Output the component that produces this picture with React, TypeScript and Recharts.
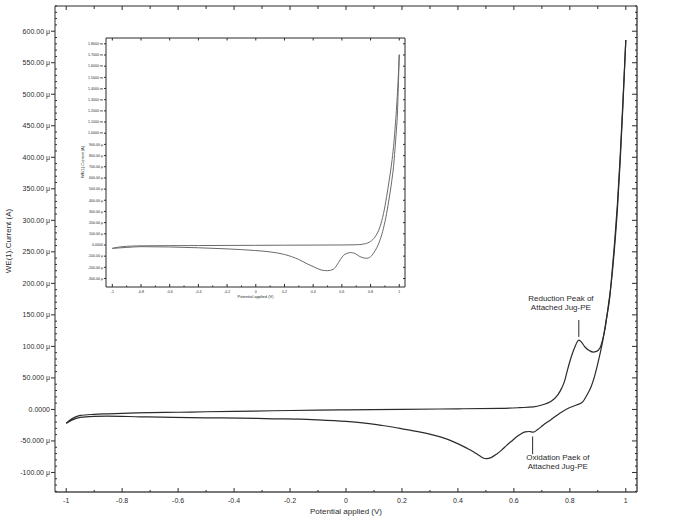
import { Line, LineChart, ReferenceDot, ReferenceLine, XAxis, YAxis } from "recharts";

// cyclic voltammogram, potential (V) vs current (µA)
const upperScan: [number, number][] = [
  [-1, -22], [-0.98, -15], [-0.95, -9.5], [-0.9, -7.8], [-0.85, -7], [-0.75, -5.6],
  [-0.6, -4.5], [-0.5, -3.7], [-0.4, -3], [-0.26, -2.1], [-0.1, -1], [0, -0.6],
  [0.2, 0], [0.4, 1], [0.55, 1.6], [0.62, 2.8], [0.67, 4], [0.7, 7], [0.73, 12],
  [0.757, 23], [0.77, 33], [0.782, 46], [0.79, 60], [0.8, 76], [0.81, 90], [0.818, 99],
  [0.826, 107], [0.832, 110], [0.84, 107.5], [0.854, 99], [0.871, 93], [0.883, 91],
  [0.895, 92], [0.907, 97], [0.918, 112], [0.925, 126], [0.937, 163], [0.949, 205],
  [0.96, 258], [0.97, 318], [0.98, 395], [0.99, 485], [1.0, 586],
];

const lowerScan: [number, number][] = [
  [-1, -22], [-0.98, -17], [-0.95, -12.7], [-0.9, -11], [-0.855, -10.6], [-0.736, -11.7],
  [-0.617, -12.7], [-0.5, -13.3], [-0.379, -13.8], [-0.26, -14.9], [-0.164, -15.4],
  [-0.1, -16.5], [0, -19], [0.074, -22], [0.13, -25.5], [0.193, -30], [0.24, -34],
  [0.288, -38], [0.34, -44], [0.383, -51], [0.43, -61], [0.455, -67], [0.479, -74],
  [0.49, -77], [0.502, -78], [0.52, -76], [0.538, -71], [0.555, -65], [0.574, -57],
  [0.59, -51], [0.61, -43.5], [0.625, -39], [0.64, -35.5], [0.655, -35], [0.669, -36],
  [0.685, -32], [0.704, -25], [0.73, -17], [0.764, -6], [0.8, 3], [0.824, 7],
  [0.846, 12], [0.86, 22], [0.876, 36], [0.888, 52], [0.9, 73], [0.918, 110],
  [0.93, 142], [0.943, 179], [0.95, 213], [0.96, 265], [0.97, 326], [0.98, 402],
  [0.99, 492], [1.0, 586],
];

// inset: full-range scan, µA
const insetUpper: [number, number][] = [
  [-1, -30], [-0.95, -18], [-0.9, -12], [-0.8, -8], [-0.6, -6], [-0.4, -5], [-0.2, -4],
  [0, -3], [0.2, -2], [0.4, -1], [0.6, 0], [0.7, 2], [0.75, 8], [0.78, 18], [0.8, 32],
  [0.83, 70], [0.866, 164], [0.89, 280], [0.912, 433], [0.93, 580], [0.947, 732],
  [0.96, 880], [0.97, 1030], [0.986, 1329], [0.993, 1500], [1.0, 1703],
];

const insetLower: [number, number][] = [
  [-1, -30], [-0.9, -22], [-0.8, -15], [-0.6, -18], [-0.4, -25], [-0.2, -35], [0, -50],
  [0.1, -62], [0.2, -85], [0.3, -130], [0.36, -170], [0.42, -205], [0.46, -225],
  [0.5, -230], [0.54, -218], [0.565, -180], [0.59, -130], [0.61, -95], [0.635, -75],
  [0.66, -68], [0.69, -75], [0.72, -100], [0.75, -115], [0.775, -119], [0.8, -105],
  [0.82, -75], [0.845, -20], [0.866, 45], [0.89, 150], [0.912, 284], [0.93, 420],
  [0.947, 567], [0.96, 700], [0.97, 852], [0.98, 1030], [0.986, 1146], [0.993, 1400],
  [1.0, 1703],
];

const xMajor = [-1, -0.8, -0.6, -0.4, -0.2, 0, 0.2, 0.4, 0.6, 0.8, 1];
const xLabels = ["-1", "-0.8", "-0.6", "-0.4", "-0.2", "0", "0.2", "0.4", "0.6", "0.8", "1"];
const xMinor = [-0.9, -0.7, -0.5, -0.3, -0.1, 0.1, 0.3, 0.5, 0.7, 0.9];

const yMajor = [-100, -50, 0, 50, 100, 150, 200, 250, 300, 350, 400, 450, 500, 550, 600];
const yLabels = [
  "-100.00 μ", "-50.000 μ", "0.0000", "50.000 μ", "100.00 μ", "150.00 μ", "200.00 μ",
  "250.00 μ", "300.00 μ", "350.00 μ", "400.00 μ", "450.00 μ", "500.00 μ", "550.00 μ",
  "600.00 μ",
];

const insetYMajor = [
  -300, -200, -100, 0, 100, 200, 300, 400, 500, 600, 700, 800, 900, 1000, 1100, 1200,
  1300, 1400, 1500, 1600, 1700, 1800,
];
const insetYLabels = [
  "-300.00 μ", "-200.00 μ", "-100.00 μ", "0.0000", "100.00 μ", "200.00 μ", "300.00 μ",
  "400.00 μ", "500.00 μ", "600.00 μ", "700.00 μ", "800.00 μ", "900.00 μ", "1.0000 m",
  "1.1000 m", "1.2000 m", "1.3000 m", "1.4000 m", "1.5000 m", "1.6000 m", "1.7000 m",
  "1.8000 m",
];

const annotations = [
  { x: 0.768, y: 172, tipX: 0.832, tipTop: 142, tipBottom: 115, lines: ["Reduction Peak of", "Attached Jug-PE"] },
  { x: 0.757, y: -81, tipX: 0.667, tipTop: -43, tipBottom: -71, lines: ["Oxidation Paek of", "Attached Jug-PE"] },
];

const FONT = "Liberation Sans, Arial, sans-serif";
const INK = "#2b2b2b";

const toPoints = (pairs: [number, number][]) => pairs.map(([v, i]) => ({ v, i }));

const mainYMinor: number[] = [];
for (let k = -130; k <= 640; k += 10) if (k % 50 !== 0) mainYMinor.push(k);

type Side = "bottom" | "top" | "left" | "right";

function makeTick(
  side: Side,
  majors: number[],
  labels: string[] | null,
  majorLen: number,
  minorLen: number,
  fontSize: number,
  outwardMajor = false,
) {
  return (props: any) => {
    const { x, y, payload } = props;
    const idx = majors.findIndex((m) => Math.abs(m - payload.value) < 1e-6);
    const major = idx >= 0;
    const len = major ? majorLen : minorLen;
    let line;
    if (side === "bottom") line = <line x1={x} x2={x} y1={y} y2={y - len} stroke={INK} strokeWidth={1} />;
    else if (side === "top") line = <line x1={x} x2={x} y1={y} y2={y + len} stroke={INK} strokeWidth={1} />;
    else if (side === "left")
      line = outwardMajor && major
        ? <line x1={x} x2={x - len} y1={y} y2={y} stroke={INK} strokeWidth={1} />
        : <line x1={x} x2={x + len} y1={y} y2={y} stroke={INK} strokeWidth={1} />;
    else line = <line x1={x} x2={x - len} y1={y} y2={y} stroke={INK} strokeWidth={1} />;
    let label = null;
    if (labels && major) {
      if (side === "bottom")
        label = (
          <text x={x} y={y + fontSize * 1.6} textAnchor="middle" fontSize={fontSize} fontFamily={FONT} fill={INK}>
            {labels[idx]}
          </text>
        );
      if (side === "left")
        label = (
          <text x={x - majorLen - 1} y={y} dy="0.35em" textAnchor="end" fontSize={fontSize} fontFamily={FONT} fill={INK}>
            {labels[idx]}
          </text>
        );
    }
    return (
      <g>
        {line}
        {label}
      </g>
    );
  };
}

function AnnotationText(props: any) {
  const { viewBox, lines } = props;
  const cx = viewBox.x + viewBox.width / 2;
  const cy = viewBox.y + viewBox.height / 2;
  return (
    <text x={cx} y={cy} textAnchor="middle" fontSize={8} fontFamily={FONT} fill={INK}>
      {lines.map((l: string, k: number) => (
        <tspan key={k} x={cx} dy={k === 0 ? 0 : 9}>
          {l}
        </tspan>
      ))}
    </text>
  );
}

function Inset() {
  const xDomain = [-1.044, 1.04];
  const yDomain = [-376, 1852];
  return (
    <div style={{ position: "absolute", left: 70, top: 30, background: "#fff" }}>
      <LineChart width={340} height={275} margin={{ top: 7, right: 4, bottom: 0, left: 0 }}>
        <XAxis
          dataKey="v"
          type="number"
          domain={xDomain}
          allowDataOverflow
          ticks={[...xMajor, ...xMinor]}
          interval={0}
          tickSize={0}
          tickMargin={0}
          height={18}
          axisLine={{ stroke: INK, strokeWidth: 1 }}
          tick={makeTick("bottom", xMajor, xLabels, 3, 1.5, 3.6)}
          label={{ value: "Potential applied (V)", position: "insideBottom", offset: 7, fontSize: 4, fontFamily: FONT, fill: INK }}
        />
        <XAxis
          xAxisId="top"
          orientation="top"
          dataKey="v"
          type="number"
          domain={xDomain}
          allowDataOverflow
          ticks={xMajor}
          interval={0}
          tickSize={0}
          tickMargin={0}
          height={1}
          axisLine={{ stroke: INK, strokeWidth: 1 }}
          tick={makeTick("top", xMajor, null, 2.5, 1.5, 3.6)}
        />
        <YAxis
          dataKey="i"
          type="number"
          domain={yDomain}
          allowDataOverflow
          ticks={insetYMajor}
          interval={0}
          tickSize={0}
          tickMargin={0}
          width={36}
          axisLine={{ stroke: INK, strokeWidth: 1 }}
          tick={makeTick("left", insetYMajor, insetYLabels, 2, 1, 3.6, true)}
          label={{
            content: () => (
              <text x={14} y={132} transform="rotate(-90 14 132)" textAnchor="middle" fontSize={4} fontFamily={FONT} fill={INK}>
                WE(1).Current (A)
              </text>
            ),
          }}
        />
        <YAxis
          yAxisId="right"
          orientation="right"
          dataKey="i"
          type="number"
          domain={yDomain}
          allowDataOverflow
          ticks={insetYMajor}
          interval={0}
          tickSize={0}
          tickMargin={0}
          width={1}
          axisLine={{ stroke: INK, strokeWidth: 1 }}
          tick={makeTick("right", insetYMajor, null, 2, 1, 3.6)}
        />
        <Line data={toPoints(insetUpper)} dataKey="i" type="monotone" stroke="#6a6a6a" strokeWidth={1} dot={false} isAnimationActive={false} />
        <Line data={toPoints(insetLower)} dataKey="i" type="monotone" stroke="#6a6a6a" strokeWidth={1} dot={false} isAnimationActive={false} />
        <Line data={toPoints(insetUpper)} xAxisId="top" yAxisId="right" dataKey="i" stroke="none" dot={false} isAnimationActive={false} />
      </LineChart>
    </div>
  );
}

export default function App() {
  const xDomain = [-1.04, 1.04];
  const yDomain = [-131, 640];
  return (
    <div style={{ position: "absolute", left: 0, top: 0, width: 690, height: 519, background: "#fff" }}>
      <LineChart width={690} height={519} margin={{ top: 5, right: 52, bottom: 0, left: 0 }}>
        <XAxis
          dataKey="v"
          type="number"
          domain={xDomain}
          allowDataOverflow
          ticks={[...xMajor, ...xMinor]}
          interval={0}
          tickSize={0}
          tickMargin={0}
          height={27}
          axisLine={{ stroke: "#7a7a7a", strokeWidth: 2 }}
          tick={makeTick("bottom", xMajor, xLabels, 4, 2, 7)}
          label={{ value: "Potential applied (V)", position: "insideBottom", offset: 5, fontSize: 8, fontFamily: FONT, fill: INK }}
        />
        <XAxis
          xAxisId="top"
          orientation="top"
          dataKey="v"
          type="number"
          domain={xDomain}
          allowDataOverflow
          ticks={[...xMajor, ...xMinor]}
          interval={0}
          tickSize={0}
          tickMargin={0}
          height={1}
          axisLine={{ stroke: INK, strokeWidth: 1 }}
          tick={makeTick("top", xMajor, null, 4, 3, 7)}
        />
        <YAxis
          dataKey="i"
          type="number"
          domain={yDomain}
          allowDataOverflow
          ticks={[...yMajor, ...mainYMinor]}
          interval={0}
          tickSize={0}
          tickMargin={0}
          width={55}
          axisLine={{ stroke: INK, strokeWidth: 1 }}
          tick={makeTick("left", yMajor, yLabels, 4, 2, 7, true)}
          label={{
            content: () => (
              <text x={11} y={241} transform="rotate(-90 11 241)" textAnchor="middle" fontSize={8} fontFamily={FONT} fill={INK}>
                WE(1).Current (A)
              </text>
            ),
          }}
        />
        <YAxis
          yAxisId="right"
          orientation="right"
          dataKey="i"
          type="number"
          domain={yDomain}
          allowDataOverflow
          ticks={[...yMajor, ...mainYMinor]}
          interval={0}
          tickSize={0}
          tickMargin={0}
          width={1}
          axisLine={{ stroke: "#7a7a7a", strokeWidth: 2 }}
          tick={makeTick("right", yMajor, null, 5, 2, 7)}
        />
        <Line data={toPoints(upperScan)} dataKey="i" type="monotone" stroke={INK} strokeWidth={1.2} dot={false} isAnimationActive={false} />
        <Line data={toPoints(lowerScan)} dataKey="i" type="monotone" stroke={INK} strokeWidth={1.2} dot={false} isAnimationActive={false} />
        <Line data={toPoints(upperScan)} xAxisId="top" yAxisId="right" dataKey="i" stroke="none" dot={false} isAnimationActive={false} />
        {annotations.map((a, k) => (
          <ReferenceLine
            key={`l${k}`}
            segment={[{ x: a.tipX, y: a.tipTop }, { x: a.tipX, y: a.tipBottom }]}
            stroke={INK}
            strokeWidth={1}
          />
        ))}
        {annotations.map((a, k) => (
          <ReferenceDot
            key={`d${k}`}
            x={a.x}
            y={a.y}
            r={1}
            fill="none"
            stroke="none"
            label={{ content: (p: any) => <AnnotationText {...p} lines={a.lines} /> }}
          />
        ))}
      </LineChart>
      <Inset />
    </div>
  );
}
